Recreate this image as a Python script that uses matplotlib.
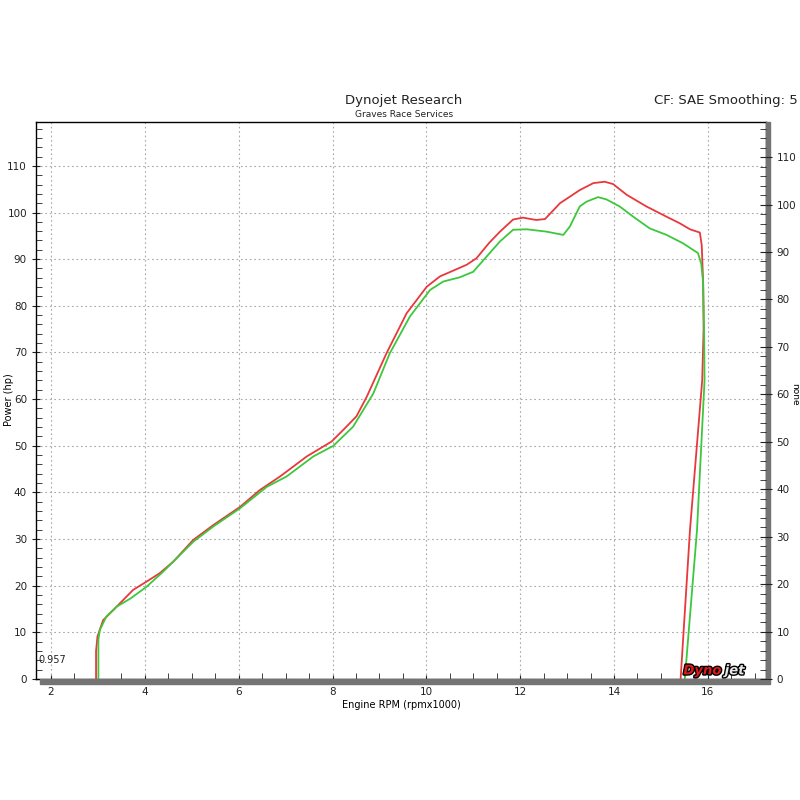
import matplotlib
matplotlib.use("Agg")
import matplotlib.pyplot as plt
from matplotlib.ticker import MultipleLocator
from matplotlib.patches import Rectangle
import matplotlib.patheffects as pe

# run 1 (red)
rpm_red = [2.96, 2.96, 2.99, 3.11, 3.33, 3.75, 4.04, 4.32, 4.61, 5.03, 5.46, 6.03,
           6.45, 6.88, 7.45, 7.98, 8.23, 8.51, 8.73, 9.15, 9.58, 10.01, 10.29, 10.86,
           11.07, 11.34, 11.57, 11.85, 12.06, 12.28, 12.35, 12.53, 12.85, 13.27, 13.56,
           13.80, 13.98, 14.27, 14.69, 15.12, 15.40, 15.62, 15.83, 15.87, 15.90, 15.91,
           15.88, 15.62, 15.42]
hp_red = [0, 6, 9.1, 12.6, 14.8, 19.1, 20.9, 22.7, 25.2, 29.8, 33.0, 36.9,
          40.5, 43.4, 47.7, 50.9, 53.4, 56.3, 60.5, 69.8, 78.4, 84.1, 86.3, 88.8,
          90.2, 93.5, 95.9, 98.5, 98.9, 98.5, 98.4, 98.6, 102.0, 104.8, 106.3,
          106.6, 106.1, 103.8, 101.3, 99.1, 97.7, 96.4, 95.7, 93.0, 85.0, 75.0,
          64.0, 32.0, 0]

# run 2 (green)
rpm_green = [3.01, 3.01, 3.04, 3.18, 3.40, 3.70, 4.04, 4.39, 4.68, 5.03, 5.46, 6.03,
             6.60, 7.02, 7.59, 8.02, 8.44, 8.87, 9.22, 9.65, 10.08, 10.36, 10.71, 11.00,
             11.28, 11.57, 11.85, 12.14, 12.56, 12.92, 13.06, 13.27, 13.41, 13.66, 13.84,
             14.12, 14.41, 14.76, 15.12, 15.47, 15.79, 15.86, 15.90, 15.92, 15.93, 15.77,
             15.51]
hp_green = [0, 8.4, 10.5, 13.4, 15.5, 17.3, 19.8, 23.0, 25.9, 29.4, 32.7, 36.6,
            41.2, 43.4, 47.7, 50.0, 54.1, 61.2, 69.8, 77.7, 83.4, 85.2, 86.1, 87.3,
            90.5, 93.8, 96.3, 96.4, 95.9, 95.2, 97.0, 101.3, 102.3, 103.3, 102.8,
            101.3, 99.1, 96.6, 95.2, 93.4, 91.3, 89.0, 85.0, 75.0, 64.0, 32.0,
            0]

x_ticks = [2, 4, 6, 8, 10, 12, 14, 16]
y_ticks = [0, 10, 20, 30, 40, 50, 60, 70, 80, 90, 100, 110]

fig = plt.figure(figsize=(8, 8), dpi=100)
ax = fig.add_axes([0.045, 0.15125, 0.9125, 0.69625])

ax.plot(rpm_red, hp_red, color="#e8383c", lw=1.3, zorder=3)
ax.plot(rpm_green, hp_green, color="#3cc83c", lw=1.3, zorder=3)

ax.set_xlim(1.68, 17.24)
ax.set_ylim(0, 119.4)
ax.set_xticks(x_ticks)
ax.set_yticks(y_ticks)
ax.xaxis.set_minor_locator(MultipleLocator(0.5))
ax.yaxis.set_minor_locator(MultipleLocator(2))
ax.grid(True, which="major", color="#a8a8a8", linestyle=(0, (1.5, 2.5)), lw=0.8)
ax.tick_params(which="major", direction="inout", length=6, labelsize=7.5, colors="#222222")
ax.tick_params(which="minor", direction="in", length=4, color="#222222")
ax.tick_params(axis="x", pad=3)

for s in ax.spines.values():
    s.set_color("black")
    s.set_linewidth(1)

ax.set_xlabel("Engine RPM (rpmx1000)", fontsize=7, labelpad=2)
fig.text(0.011, 0.5, "Power (hp)", fontsize=7, rotation=90, ha="center", va="center")

ax2 = ax.twinx()
ax2.set_ylim(0, 117.4)
ax2.set_yticks(y_ticks)
ax2.yaxis.set_minor_locator(MultipleLocator(2))
ax2.tick_params(which="major", direction="inout", length=8, labelsize=7.5, colors="#222222")
ax2.tick_params(which="minor", direction="in", length=4, color="#222222")
for s in ax2.spines.values():
    s.set_visible(False)
fig.text(0.993, 0.507, "none", fontsize=6.5, rotation=270, ha="center", va="center")

# thick grey bars under the x axis and along the right edge
ax.add_patch(Rectangle((0.005, -0.009), 0.995, 0.009, transform=ax.transAxes,
                       color="#747474", clip_on=False, zorder=4))
ax.add_patch(Rectangle((1.0, -0.009), 0.006, 1.009, transform=ax.transAxes,
                       color="#747474", clip_on=False, zorder=4))

ax.text(1.72, 4.1, "0.957", fontsize=7, color="#222222", va="center")

# Dynojet logo
outline = [pe.withStroke(linewidth=2, foreground="black")]
ax.text(15.48, 1.0, "Dyno", fontsize=9.5, fontweight="bold", style="italic",
        color="#e01818", path_effects=outline, zorder=5)
ax.text(16.36, 1.0, "jet", fontsize=9.5, fontweight="bold", style="italic",
        color="#e8e8e8", path_effects=outline, zorder=5)

fig.text(0.505, 0.874, "Dynojet Research", fontsize=9.5, ha="center", va="center", color="#222222")
fig.text(0.505, 0.857, "Graves Race Services", fontsize=6.5, ha="center", va="center", color="#222222")
fig.text(0.997, 0.874, "CF: SAE Smoothing: 5", fontsize=9.5, ha="right", va="center", color="#222222")

fig.savefig("out.png", dpi=100)
